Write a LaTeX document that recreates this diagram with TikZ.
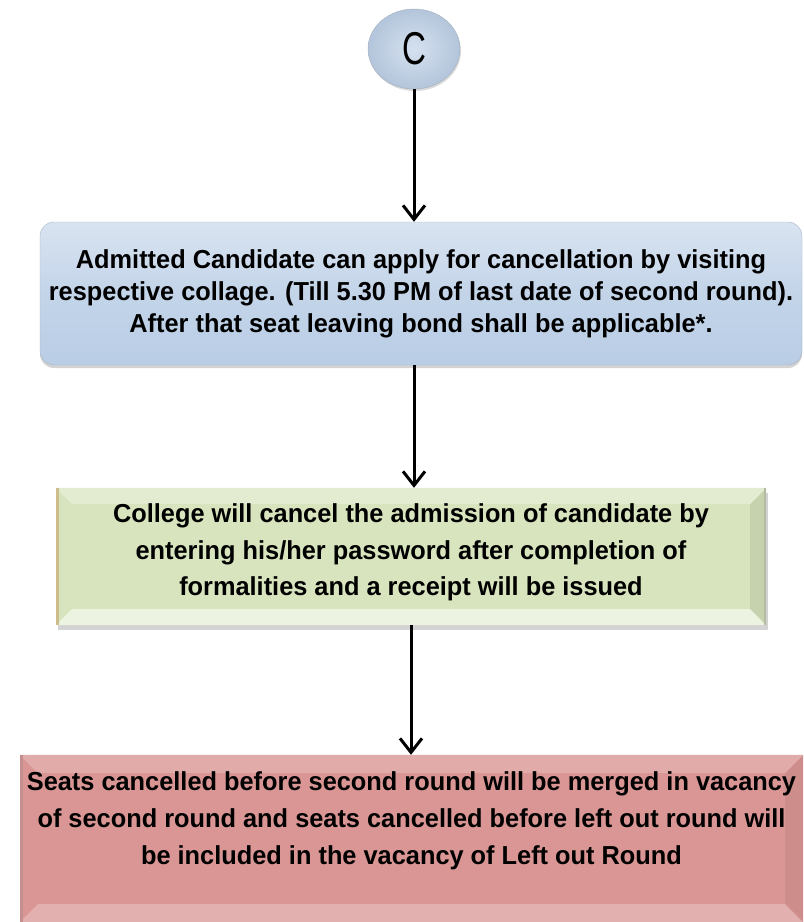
\documentclass[tikz,border=0pt]{standalone}
\usepackage{fontspec}
\setmainfont{Carlito}
\newfontfamily\narrowfont[FakeStretch=0.975]{Liberation Sans}
\newfontfamily\circlefont[FakeStretch=0.72]{Liberation Sans}
\usetikzlibrary{arrows.meta,shapes.geometric,shadows}
\definecolor{boxblue}{HTML}{B9CDE5}
\definecolor{boxgreen}{HTML}{D7E4BD}
\definecolor{boxred}{HTML}{D99694}
\tikzset{
  flowarrow/.style={line width=3pt,-{Straight Barb[length=14pt,width=22pt,line width=3pt]}},
  bevelbox/.style={rectangle,inner sep=0pt,align=center},
  boxtext/.style={align=center,font=\narrowfont\bfseries\fontsize{26}{#1}\selectfont},
}
\begin{document}
\begin{tikzpicture}[x=1pt,y=-1pt]
\useasboundingbox (0,0) rectangle (804,922);

% start circle
\node[ellipse,minimum width=92pt,minimum height=80pt,inner sep=0pt,
  inner color=white!40!boxblue,outer color=boxblue!90!gray,draw=boxblue!60!gray,
  drop shadow={shadow xshift=1pt,shadow yshift=-2pt,opacity=.3},
  font=\circlefont\fontsize{46}{48}\selectfont]
  (c) at (414,49) {C};

% first box
\node[rectangle,rounded corners=14pt,minimum width=762pt,minimum height=143pt,
  top color=boxblue!55!white,bottom color=boxblue,middle color=boxblue!85!white,
  draw=boxblue!70!gray,
  drop shadow={shadow xshift=0pt,shadow yshift=-3pt,opacity=.35},boxtext=32]
  (apply) at (421,293.5) {Admitted Candidate can apply for cancellation by visiting\\
  respective collage. (Till 5.30 PM of last date of second round).\\
  After that seat leaving bond shall be applicable*.};

% second box
\node[bevelbox,minimum width=710pt,minimum height=137pt,fill=boxgreen,
  drop shadow={shadow xshift=2pt,shadow yshift=-5pt,opacity=.35}]
  (cancel) at (411,556.5) {};
\fill[boxgreen!92!black] (cancel.north east) -- ([xshift=-16pt,yshift=-16pt]cancel.north east)
  -- ([xshift=-16pt,yshift=16pt]cancel.south east) -- (cancel.south east) -- cycle;
\fill[boxgreen!45!white] (cancel.south west) -- ([xshift=16pt,yshift=16pt]cancel.south west)
  -- ([xshift=-16pt,yshift=16pt]cancel.south east) -- (cancel.south east) -- cycle;
\fill[boxgreen!70!white] (cancel.north west) -- ([xshift=16pt,yshift=-16pt]cancel.north west)
  -- ([xshift=-16pt,yshift=-16pt]cancel.north east) -- (cancel.north east) -- cycle;
\fill[boxgreen!60!brown] (cancel.north west) rectangle ([xshift=3pt]cancel.south west);
\fill[boxgreen!60!gray] (cancel.north east) rectangle ([xshift=-2pt]cancel.south east);
\node[boxtext=36.5] (canceltext) at ([yshift=4pt]cancel.center) {College will cancel the admission of candidate by\\
  entering his/her password after completion of\\
  formalities and a receipt will be issued};

% third box
\node[bevelbox,minimum width=783pt,minimum height=167pt,fill=boxred]
  (merge) at (411.5,838.5) {};
\fill[boxred!94!black] (merge.north east) -- ([xshift=-18pt,yshift=-18pt]merge.north east)
  -- ([xshift=-18pt,yshift=18pt]merge.south east) -- (merge.south east) -- cycle;
\fill[boxred!75!white] (merge.south west) -- ([xshift=18pt,yshift=18pt]merge.south west)
  -- ([xshift=-18pt,yshift=18pt]merge.south east) -- (merge.south east) -- cycle;
\fill[boxred!80!white] (merge.north west) -- ([xshift=18pt,yshift=-18pt]merge.north west)
  -- ([xshift=-18pt,yshift=-18pt]merge.north east) -- (merge.north east) -- cycle;
\fill[boxred!75!gray] (merge.north west) rectangle ([xshift=3pt]merge.south west);
\node[boxtext=37] (mergetext) at ([yshift=18pt]merge.center) {Seats cancelled before second round will be merged in vacancy\\
  of second round and seats cancelled before left out round will\\
  be included in the vacancy of Left out Round};

% connectors
\draw[flowarrow] (c) -- (c |- apply.north);
\draw[flowarrow] (c |- apply.south) -- (c |- cancel.north);
\draw[flowarrow] (cancel.south) -- (cancel.south |- merge.north);
\end{tikzpicture}
\end{document}
